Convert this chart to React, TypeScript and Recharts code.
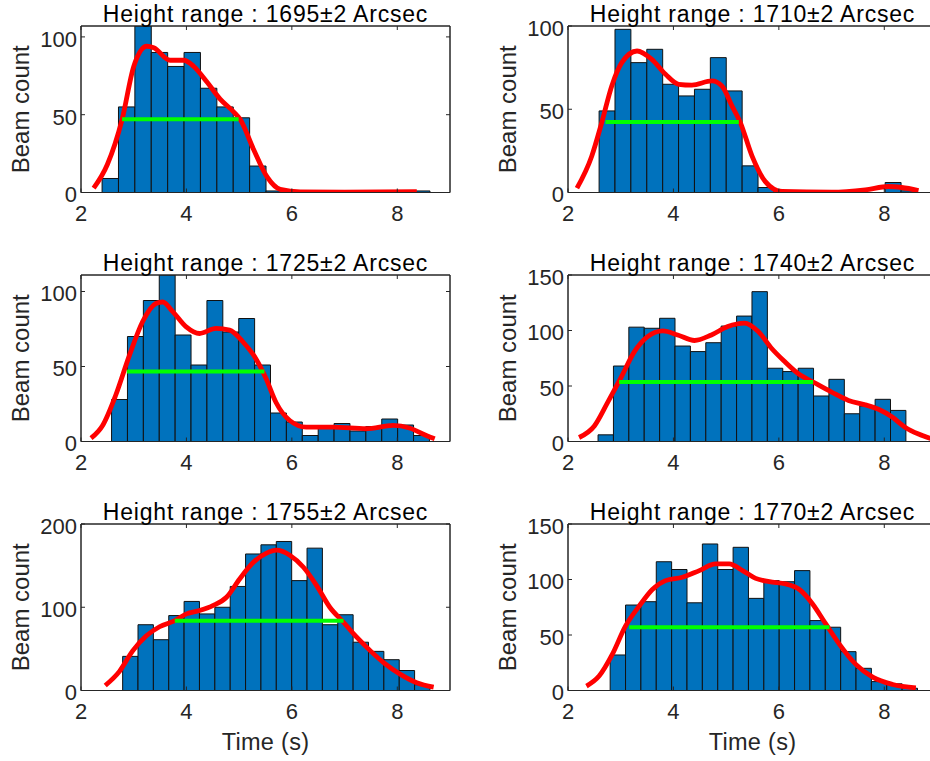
import React from 'react';
import { ComposedChart, XAxis, YAxis, Line, ReferenceArea } from 'recharts';

const timeTicks = [2, 4, 6, 8];

// Panel 1
const p1Title = 'Height range : 1695\u00b12 Arcsec';
const p1BinStart = 2.40;
const p1BinWidth = 0.311;
const p1Counts = [9, 55, 107, 90, 81, 90, 67, 55, 48, 17, 1, 0, 0, 0, 0, 0, 0, 0, 0, 1];
const p1CurveT = [2.24, 2.5, 2.78, 3.0, 3.25, 3.38, 3.69, 3.95, 4.14, 4.39, 4.64, 4.89, 5.02, 5.27, 5.53, 5.78, 6.16, 7.0, 8.37];
const p1CurveY = [2.8, 18, 47, 81, 94, 93, 85, 85, 81, 71, 60, 52, 47, 28, 10, 2, 0.4, 0.3, 0.5];
const p1FwhmT = [2.78, 4.99];
const p1FwhmY = 47;
const p1YTicks = [0, 50, 100];
const p1YMax = 107;

// Panel 2
const p2Title = 'Height range : 1710\u00b12 Arcsec';
const p2BinStart = 2.59;
const p2BinWidth = 0.3015;
const p2Counts = [49, 98, 78, 86, 65, 58, 62, 81, 61, 16, 3, 0, 0, 0, 0, 0, 0, 0, 6, 1];
const p2CurveT = [2.17, 2.45, 2.64, 2.83, 3.02, 3.31, 3.59, 3.85, 4.10, 4.35, 4.73, 4.92, 5.11, 5.27, 5.49, 5.74, 6.06, 7.0, 7.64, 8.08, 8.33, 8.65];
const p2CurveY = [2.6, 21.8, 42, 64, 78, 85, 80, 71, 65, 64.5, 67, 64, 52, 42, 22, 6.7, 0.6, 0.2, 1.6, 3.6, 3, 1.2];
const p2FwhmT = [2.71, 5.24];
const p2FwhmY = 42.3;
const p2YTicks = [0, 50, 100];
const p2YMax = 100;

// Panel 3
const p3Title = 'Height range : 1725\u00b12 Arcsec';
const p3BinStart = 2.58;
const p3BinWidth = 0.3015;
const p3Counts = [28, 70, 94, 111, 71, 51, 94, 73, 82, 51, 19, 13, 4, 10, 12, 7, 10, 15, 11, 4];
const p3CurveT = [2.19, 2.41, 2.66, 2.92, 3.17, 3.42, 3.55, 3.74, 3.99, 4.25, 4.56, 4.82, 5.07, 5.32, 5.51, 5.70, 5.96, 6.27, 6.78, 7.41, 7.92, 8.23, 8.55, 8.71];
const p3CurveY = [2.2, 10.7, 31, 57.6, 80, 92, 93, 86.6, 76.6, 72, 75.4, 74.3, 66.5, 55, 42, 26, 14, 9.6, 9.6, 8.5, 10.7, 9, 4, 1.8];
const p3FwhmT = [2.87, 5.48];
const p3FwhmY = 46.7;
const p3YTicks = [0, 50, 100];
const p3YMax = 111;

// Panel 4
const p4Title = 'Height range : 1740\u00b12 Arcsec';
const p4BinStart = 2.57;
const p4BinWidth = 0.292;
const p4Counts = [6, 68, 103, 102, 111, 86, 81, 89, 104, 113, 135, 66, 63, 66, 41, 56, 25, 32, 38, 28];
const p4CurveT = [2.21, 2.50, 2.75, 3.0, 3.26, 3.51, 3.80, 4.08, 4.40, 4.72, 5.03, 5.35, 5.61, 5.86, 6.11, 6.37, 6.65, 7.0, 7.32, 7.64, 7.89, 8.15, 8.40, 8.65, 8.88];
const p4CurveY = [3.6, 14, 35, 57, 81, 94.5, 99.7, 96, 91, 96, 103.6, 106.7, 99, 84, 72, 61, 53.6, 44.5, 37, 33, 29, 22, 12.7, 6.7, 2.7];
const p4FwhmT = [2.97, 6.65];
const p4FwhmY = 53.6;
const p4YTicks = [0, 50, 100, 150];
const p4YMax = 150;

// Panel 5
const p5Title = 'Height range : 1755\u00b12 Arcsec';
const p5BinStart = 2.79;
const p5BinWidth = 0.2915;
const p5Counts = [41, 79, 61, 90, 107, 92, 100, 125, 164, 175, 179, 132, 171, 79, 91, 58, 47, 37, 24, 7];
const p5CurveT = [2.46, 2.73, 2.98, 3.24, 3.49, 3.78, 4.0, 4.25, 4.50, 4.76, 5.01, 5.27, 5.52, 5.71, 5.96, 6.22, 6.47, 6.72, 6.98, 7.23, 7.49, 7.74, 8.06, 8.37, 8.69];
const p5CurveY = [6, 23, 47.6, 65.7, 76.6, 83.9, 92, 96, 102, 112, 134, 154, 165, 168.5, 162.5, 148, 126, 100, 82, 64, 47.6, 33.5, 19.4, 9.3, 4];
const p5FwhmT = [3.78, 6.98];
const p5FwhmY = 83.9;
const p5YTicks = [0, 100, 200];
const p5YMax = 200;

// Panel 6
const p6Title = 'Height range : 1770\u00b12 Arcsec';
const p6BinStart = 2.80;
const p6BinWidth = 0.2915;
const p6Counts = [32, 77, 80, 116, 109, 79, 132, 109, 129, 83, 99, 98, 108, 63, 57, 35, 20, 8, 6, 2];
const p6CurveT = [2.35, 2.59, 2.84, 3.09, 3.35, 3.60, 3.85, 4.17, 4.49, 4.80, 5.06, 5.31, 5.56, 5.82, 6.13, 6.39, 6.64, 6.89, 7.15, 7.46, 7.78, 8.16, 8.60];
const p6CurveY = [4, 13, 32.5, 58, 76, 91, 99, 102, 108, 114, 114, 108, 101, 98, 96, 91, 78, 60, 41.6, 23.5, 12, 5.4, 2.4];
const p6FwhmT = [3.16, 6.96];
const p6FwhmY = 57;
const p6YTicks = [0, 50, 100, 150];
const p6YMax = 150;

const panels = [
  { title: p1Title, binStart: p1BinStart, binWidth: p1BinWidth, counts: p1Counts, curveT: p1CurveT, curveY: p1CurveY, fwhmT: p1FwhmT, fwhmY: p1FwhmY, yTicks: p1YTicks, yMax: p1YMax },
  { title: p2Title, binStart: p2BinStart, binWidth: p2BinWidth, counts: p2Counts, curveT: p2CurveT, curveY: p2CurveY, fwhmT: p2FwhmT, fwhmY: p2FwhmY, yTicks: p2YTicks, yMax: p2YMax },
  { title: p3Title, binStart: p3BinStart, binWidth: p3BinWidth, counts: p3Counts, curveT: p3CurveT, curveY: p3CurveY, fwhmT: p3FwhmT, fwhmY: p3FwhmY, yTicks: p3YTicks, yMax: p3YMax },
  { title: p4Title, binStart: p4BinStart, binWidth: p4BinWidth, counts: p4Counts, curveT: p4CurveT, curveY: p4CurveY, fwhmT: p4FwhmT, fwhmY: p4FwhmY, yTicks: p4YTicks, yMax: p4YMax },
  { title: p5Title, binStart: p5BinStart, binWidth: p5BinWidth, counts: p5Counts, curveT: p5CurveT, curveY: p5CurveY, fwhmT: p5FwhmT, fwhmY: p5FwhmY, yTicks: p5YTicks, yMax: p5YMax },
  { title: p6Title, binStart: p6BinStart, binWidth: p6BinWidth, counts: p6Counts, curveT: p6CurveT, curveY: p6CurveY, fwhmT: p6FwhmT, fwhmY: p6FwhmY, yTicks: p6YTicks, yMax: p6YMax },
];

const FONT = '"Liberation Sans", Arial, Helvetica, sans-serif';
const AXIS_COLOR = '#262626';
const Y_AXIS_W = 81;
const PLOT_W = 369;
const PLOT_H = 166.5;
const MARGIN_TOP = 39;
const MARGIN_RIGHT = 11;
const X_AXIS_H = 70;
const COL_LEFT = [81, 568];
const ROW_TOP = [26, 275, 523.5];

function Panel({ cfg, col, row }: { cfg: any; col: number; row: number }) {
  const curve = cfg.curveT.map((t: number, i: number) => ({ t, y: cfg.curveY[i] }));
  const fwhm = cfg.fwhmT.map((t: number) => ({ t, y: cfg.fwhmY }));
  const bins = cfg.counts.map((c: number, i: number) => ({
    x1: cfg.binStart + i * cfg.binWidth,
    x2: cfg.binStart + (i + 1) * cfg.binWidth,
    c,
  }));
  const width = Y_AXIS_W + PLOT_W + 1 + MARGIN_RIGHT;
  const height = MARGIN_TOP + 1 + PLOT_H + X_AXIS_H;
  const isBottom = row === 2;
  const tickStyle = { fontSize: 22, fill: AXIS_COLOR, fontFamily: FONT };
  return (
    <div style={{ position: 'absolute', left: COL_LEFT[col] - Y_AXIS_W, top: ROW_TOP[row] - MARGIN_TOP - 1 }}>
      <ComposedChart width={width} height={height} margin={{ top: MARGIN_TOP, right: MARGIN_RIGHT, left: 0, bottom: 0 }}>
        <XAxis
          xAxisId="b"
          type="number"
          dataKey="t"
          domain={[2, 9]}
          ticks={timeTicks}
          allowDataOverflow
          height={X_AXIS_H}
          stroke={AXIS_COLOR}
          tickSize={-4}
          tickMargin={17}
          tick={tickStyle}
          label={isBottom ? { value: 'Time (s)', position: 'insideBottom', offset: 11, style: { fontSize: 23.5, letterSpacing: 0.3, fill: AXIS_COLOR, fontFamily: FONT } } : undefined}
        />
        <XAxis
          xAxisId="top"
          type="number"
          dataKey="t"
          orientation="top"
          domain={[2, 9]}
          ticks={timeTicks}
          allowDataOverflow
          height={1}
          stroke={AXIS_COLOR}
          tickSize={-4}
          tickFormatter={() => ''}
        />
        <YAxis
          yAxisId="l"
          type="number"
          domain={[0, cfg.yMax]}
          ticks={cfg.yTicks}
          allowDataOverflow
          width={Y_AXIS_W}
          stroke={AXIS_COLOR}
          tickSize={-4}
          tickMargin={8}
          tick={{ ...tickStyle, dy: 2 }}
          label={{ value: 'Beam count', angle: -90, position: 'insideLeft', offset: 20, style: { fontSize: 24, fill: AXIS_COLOR, fontFamily: FONT, textAnchor: 'middle' } }}
        />
        <YAxis
          yAxisId="r"
          type="number"
          orientation="right"
          domain={[0, cfg.yMax]}
          ticks={cfg.yTicks}
          allowDataOverflow
          width={1}
          stroke={AXIS_COLOR}
          tickSize={-4}
          tickFormatter={() => ''}
        />
        {bins.filter((b: any) => b.c > 0).map((b: any, i: number) => (
          <ReferenceArea
            key={i}
            xAxisId="b"
            yAxisId="l"
            x1={b.x1}
            x2={b.x2}
            y1={0}
            y2={b.c}
            fill="#0072BD"
            fillOpacity={1}
            stroke="#111"
            strokeWidth={1}
            ifOverflow="hidden"
          />
        ))}
        <ReferenceArea
          xAxisId="b"
          yAxisId="l"
          x1={2}
          x2={9}
          y1={0}
          y2={cfg.yMax}
          fill="none"
          fillOpacity={0}
          stroke={AXIS_COLOR}
          strokeWidth={1}
          ifOverflow="visible"
          label={{ value: cfg.title, position: 'top', offset: 4.5, style: { fontSize: 23, letterSpacing: 0.8, fill: '#000', fontFamily: FONT } }}
        />
        <Line
          data={curve}
          xAxisId="b"
          yAxisId="l"
          dataKey="y"
          type="monotone"
          stroke="#FF0000"
          strokeWidth={4.8}
          dot={false}
          activeDot={false}
          isAnimationActive={false}
        />
        <Line
          data={fwhm}
          xAxisId="b"
          yAxisId="l"
          dataKey="y"
          type="linear"
          stroke="#00FF00"
          strokeWidth={4}
          dot={false}
          activeDot={false}
          isAnimationActive={false}
        />
      </ComposedChart>
    </div>
  );
}

export default function App() {
  return (
    <div style={{ position: 'absolute', left: 0, top: 0, width: 930, height: 761, overflow: 'hidden', background: '#fff' }}>
      {panels.map((cfg, i) => (
        <Panel key={i} cfg={cfg} col={i % 2} row={Math.floor(i / 2)} />
      ))}
    </div>
  );
}
